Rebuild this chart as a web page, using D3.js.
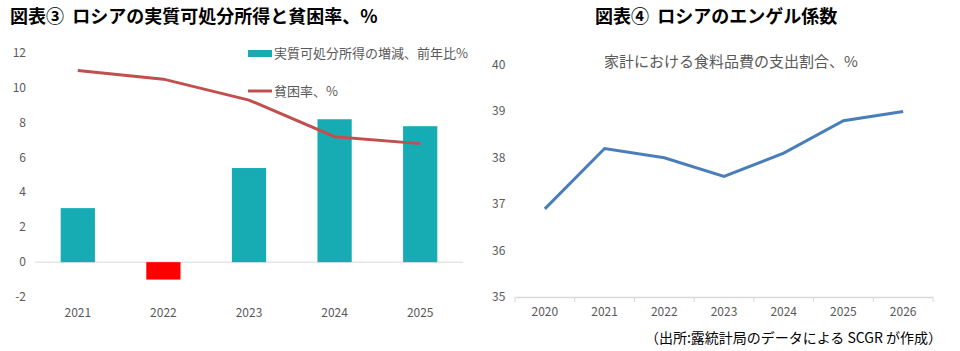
<!DOCTYPE html>
<html>
<head>
<meta charset="utf-8">
<script src="https://cdn.jsdelivr.net/npm/d3@7"></script>
<style>
body { margin: 0; background: #fff; }
svg { display: block; font-family: "Noto Sans CJK JP", "Noto Sans", sans-serif; }
.tick-label { fill: #595959; font-size: 12px; }
.legend-label { fill: #595959; font-size: 13px; }
.chart-title { fill: #000; font-size: 18px; font-weight: bold; }
</style>
</head>
<body>
<svg id="chart" width="960" height="351"></svg>
<script>
// left chart data
const years1 = ["2021", "2022", "2023", "2024", "2025"]
const incomeChange = [3.1, -1.0, 5.4, 8.2, 7.8]
const povertyRate = [11.0, 10.5, 9.3, 7.2, 6.8]
const yTicks1 = [-2, 0, 2, 4, 6, 8, 10, 12]

// right chart data
const years2 = ["2020", "2021", "2022", "2023", "2024", "2025", "2026"]
const engel = [36.9, 38.2, 38.0, 37.6, 38.1, 38.8, 39.0]
const yTicks2 = [35, 36, 37, 38, 39, 40]

const svg = d3.select("#chart")

// ---- left chart ----
svg.append("text")
	.attr("class", "chart-title")
	.attr("x", 10)
	.attr("y", 23)
	.attr("xml:space", "preserve")
	.text("図表③  ロシアの実質可処分所得と貧困率、%")

let x1 = d3.scaleBand()
	.domain(years1)
	.range([35, 463])
	.paddingInner(0.6)
	.paddingOuter(0.3)

let y1 = d3.scaleLinear()
	.domain([-2, 12])
	.range([297, 53])

let left = svg.append("g")

left.selectAll("text.ytick")
	.data(yTicks1)
	.enter()
	.append("text")
		.attr("class", "tick-label ytick")
		.attr("x", 26)
		.attr("y", d => y1(d) + 4)
		.attr("text-anchor", "end")
		.text(d => d)

left.append("line")
	.attr("x1", 35)
	.attr("x2", 463)
	.attr("y1", y1(0))
	.attr("y2", y1(0))
	.attr("stroke", "#e6e6e6")
	.attr("stroke-width", 1.5)

left.selectAll("rect.bar")
	.data(incomeChange)
	.enter()
	.append("rect")
		.attr("class", "bar")
		.attr("x", (d, i) => x1(years1[i]))
		.attr("width", x1.bandwidth())
		.attr("y", d => y1(Math.max(0, d)))
		.attr("height", d => Math.abs(y1(d) - y1(0)))
		.attr("fill", d => d < 0 ? "#ff0000" : "#17acb4")

let line1 = d3.line()
	.x((d, i) => x1(years1[i]) + x1.bandwidth() / 2)
	.y(d => y1(d))

left.append("path")
	.datum(povertyRate)
	.attr("d", line1)
	.attr("fill", "none")
	.attr("stroke", "#c0504d")
	.attr("stroke-width", 3)

left.selectAll("text.xtick")
	.data(years1)
	.enter()
	.append("text")
		.attr("class", "tick-label xtick")
		.attr("x", d => x1(d) + x1.bandwidth() / 2)
		.attr("y", 317)
		.attr("text-anchor", "middle")
		.text(d => d)

// legend
left.append("rect")
	.attr("x", 248)
	.attr("y", 50)
	.attr("width", 24)
	.attr("height", 7)
	.attr("fill", "#17acb4")
left.append("text")
	.attr("class", "legend-label")
	.attr("x", 274)
	.attr("y", 58)
	.text("実質可処分所得の増減、前年比%")
left.append("line")
	.attr("x1", 248)
	.attr("x2", 272)
	.attr("y1", 91)
	.attr("y2", 91)
	.attr("stroke", "#c0504d")
	.attr("stroke-width", 3)
left.append("text")
	.attr("class", "legend-label")
	.attr("x", 274)
	.attr("y", 96)
	.text("貧困率、%")

// ---- right chart ----
svg.append("text")
	.attr("class", "chart-title")
	.attr("x", 595)
	.attr("y", 23)
	.attr("xml:space", "preserve")
	.text("図表④  ロシアのエンゲル係数")

svg.append("text")
	.attr("x", 731)
	.attr("y", 67)
	.attr("text-anchor", "middle")
	.attr("fill", "#595959")
	.attr("font-size", "15px")
	.text("家計における食料品費の支出割合、%")

let x2 = d3.scaleBand()
	.domain(years2)
	.range([515, 933])

let y2 = d3.scaleLinear()
	.domain([35, 40])
	.range([297, 65])

let right = svg.append("g")

right.selectAll("text.ytick")
	.data(yTicks2)
	.enter()
	.append("text")
		.attr("class", "tick-label ytick")
		.attr("x", 492)
		.attr("y", d => y2(d) + 4)
		.text(d => d)

let xAxis2 = d3.axisBottom(x2).tickSizeInner(0).tickSizeOuter(0).tickFormat("")
let xG2 = right.append("g")
	.attr("transform", "translate(0," + y2(35) + ")")
	.call(xAxis2)
xG2.select(".domain").attr("stroke", "#d9d9d9").attr("stroke-width", 1.5)

right.selectAll("line.xdiv")
	.data(d3.range(years2.length + 1))
	.enter()
	.append("line")
		.attr("class", "xdiv")
		.attr("x1", i => 515 + i * x2.step())
		.attr("x2", i => 515 + i * x2.step())
		.attr("y1", y2(35))
		.attr("y2", y2(35) + 5)
		.attr("stroke", "#d9d9d9")

right.selectAll("text.xtick")
	.data(years2)
	.enter()
	.append("text")
		.attr("class", "tick-label xtick")
		.attr("x", d => x2(d) + x2.bandwidth() / 2)
		.attr("y", 316)
		.attr("text-anchor", "middle")
		.text(d => d)

let line2 = d3.line()
	.x((d, i) => x2(years2[i]) + x2.bandwidth() / 2)
	.y(d => y2(d))

right.append("path")
	.datum(engel)
	.attr("d", line2)
	.attr("fill", "none")
	.attr("stroke", "#4a7ebb")
	.attr("stroke-width", 3)

svg.append("text")
	.attr("x", 942)
	.attr("y", 343)
	.attr("text-anchor", "end")
	.attr("fill", "#000")
	.attr("font-size", "14px")
	.attr("xml:space", "preserve")
	.text("（出所:露統計局のデータによる SCGR が作成）")
</script>
</body>
</html>
